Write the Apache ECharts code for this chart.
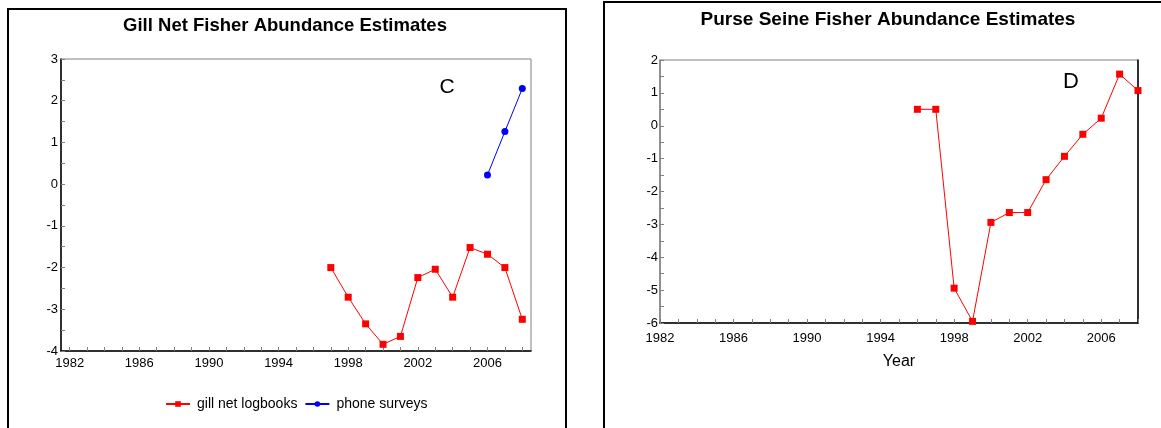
<!DOCTYPE html>
<html>
<head>
<meta charset="utf-8">
<script src="https://cdn.jsdelivr.net/npm/echarts@6/dist/echarts.min.js"></script>
<style>
  html, body { margin: 0; padding: 0; background: #fff; }
  #chart { width: 1161px; height: 428px; }
</style>
</head>
<body>
<div id="chart"></div>
<script>
// Gill net fishery: logbook and phone survey abundance indices
const gillYears = [1997, 1998, 1999, 2000, 2001, 2002, 2003, 2004, 2005, 2006, 2007, 2008];
const gillValues = [-2.0, -2.71, -3.35, -3.84, -3.65, -2.24, -2.04, -2.71, -1.52, -1.68, -2.0, -3.24];
const phoneYears = [2006, 2007, 2008];
const phoneValues = [0.22, 1.26, 2.29];

// Purse seine fishery abundance index
const purseYears = [1996, 1997, 1998, 1999, 2000, 2001, 2002, 2003, 2004, 2005, 2006, 2007, 2008];
const purseValues = [0.5, 0.5, -4.94, -5.95, -2.94, -2.64, -2.64, -1.64, -0.93, -0.26, 0.23, 1.57, 1.07];

// Axis labels and tick positions
const yearLabels = [1982, 1986, 1990, 1994, 1998, 2002, 2006];
const yearTicks = [];
for (let y = 1982; y <= 2008; y++) yearTicks.push(y);

const pairs = (xs, ys) => xs.map((x, i) => [x, ys[i]]);

const FONT = '"Liberation Sans", Arial, sans-serif';
const GRAY = '#808080';

function xAxisFor(gridIndex, min, max, labelMargin, extra) {
  return Object.assign({
    type: 'value', gridIndex, min, max,
    axisLine: { show: true, onZero: false, lineStyle: { color: '#000', width: 1.5 } },
    axisTick: { show: true, inside: true, length: 4, customValues: yearTicks,
                lineStyle: { color: GRAY } },
    axisLabel: { customValues: yearLabels, fontFamily: FONT, fontSize: 13,
                 color: '#000', margin: labelMargin, formatter: v => String(v) },
    splitLine: { show: false }
  }, extra || {});
}

function yAxisFor(gridIndex, min, max, lineColor, labelMargin) {
  return {
    type: 'value', gridIndex, min, max, interval: 1,
    axisLine: { show: true, onZero: false, lineStyle: { color: lineColor, width: 1.5 } },
    axisTick: { show: true, inside: true, length: 4, lineStyle: { color: GRAY } },
    minorTick: { show: true, splitNumber: 2, length: 4, lineStyle: { color: GRAY } },
    axisLabel: { fontFamily: FONT, fontSize: 13, color: '#000', margin: labelMargin },
    splitLine: { show: false }
  };
}

const chart = echarts.init(document.getElementById('chart'), null, { renderer: 'canvas' });

chart.setOption({
  backgroundColor: '#fff',
  animation: false,
  grid: [
    { left: 61, top: 59, width: 470, height: 292, show: true,
      borderColor: GRAY, borderWidth: 1, backgroundColor: 'transparent' },
    { left: 660, top: 60, width: 478, height: 263, show: true,
      borderColor: GRAY, borderWidth: 1, backgroundColor: 'transparent' }
  ],
  xAxis: [
    xAxisFor(0, 1981.5, 2008.5, 6),
    xAxisFor(1, 1982, 2008, 9, {
      name: 'Year', nameLocation: 'middle', nameGap: 31,
      nameTextStyle: { fontFamily: FONT, fontSize: 16, color: '#000' }
    })
  ],
  yAxis: [
    yAxisFor(0, -4, 3, '#000', 3),
    yAxisFor(1, -6, 2, GRAY, 2),
    {
      type: 'value', gridIndex: 1, min: -6, max: 2, position: 'right',
      axisLine: { show: true, onZero: false, lineStyle: { color: '#000', width: 1.5 } },
      axisTick: { show: false }, axisLabel: { show: false }, splitLine: { show: false }
    }
  ],
  legend: {
    left: 160, top: 392,
    itemWidth: 24, itemHeight: 7, itemGap: 7,
    textStyle: { fontFamily: FONT, fontSize: 14, color: '#000', padding: [0, 0, 0, 2] },
    data: ['gill net logbooks', 'phone surveys']
  },
  graphic: [
    { type: 'rect', silent: true, shape: { x: 8, y: 9, width: 558, height: 440 },
      style: { fill: 'none', stroke: '#000', lineWidth: 2 } },
    { type: 'rect', silent: true, shape: { x: 604, y: 2, width: 700, height: 500 },
      style: { fill: 'none', stroke: '#000', lineWidth: 2 } },
    { type: 'text', silent: true, x: 285, y: 26,
      style: { text: 'Gill Net Fisher Abundance Estimates', fontFamily: FONT,
               fontSize: 18.5, fontWeight: 'bold', fill: '#000',
               align: 'center', verticalAlign: 'middle' } },
    { type: 'text', silent: true, x: 888, y: 20,
      style: { text: 'Purse Seine Fisher Abundance Estimates', fontFamily: FONT,
               fontSize: 19, fontWeight: 'bold', fill: '#000',
               align: 'center', verticalAlign: 'middle' } },
    { type: 'text', silent: true, x: 447, y: 87,
      style: { text: 'C', fontFamily: FONT, fontSize: 21, fill: '#000',
               align: 'center', verticalAlign: 'middle' } },
    { type: 'text', silent: true, x: 1071, y: 82,
      style: { text: 'D', fontFamily: FONT, fontSize: 22, fill: '#000',
               align: 'center', verticalAlign: 'middle' } }
  ],
  series: [
    {
      name: 'gill net logbooks', type: 'line', xAxisIndex: 0, yAxisIndex: 0,
      data: pairs(gillYears, gillValues),
      symbol: 'rect', symbolSize: 7,
      itemStyle: { color: '#ff0000' }, lineStyle: { color: '#ff0000', width: 1 }
    },
    {
      name: 'phone surveys', type: 'line', xAxisIndex: 0, yAxisIndex: 0,
      data: pairs(phoneYears, phoneValues),
      symbol: 'circle', symbolSize: 7,
      itemStyle: { color: '#0000ff' }, lineStyle: { color: '#0000ff', width: 1 }
    },
    {
      name: 'purse seine', type: 'line', xAxisIndex: 1, yAxisIndex: 1,
      data: pairs(purseYears, purseValues),
      symbol: 'rect', symbolSize: 7,
      itemStyle: { color: '#ff0000' }, lineStyle: { color: '#ff0000', width: 1 }
    }
  ]
});
</script>
</body>
</html>
